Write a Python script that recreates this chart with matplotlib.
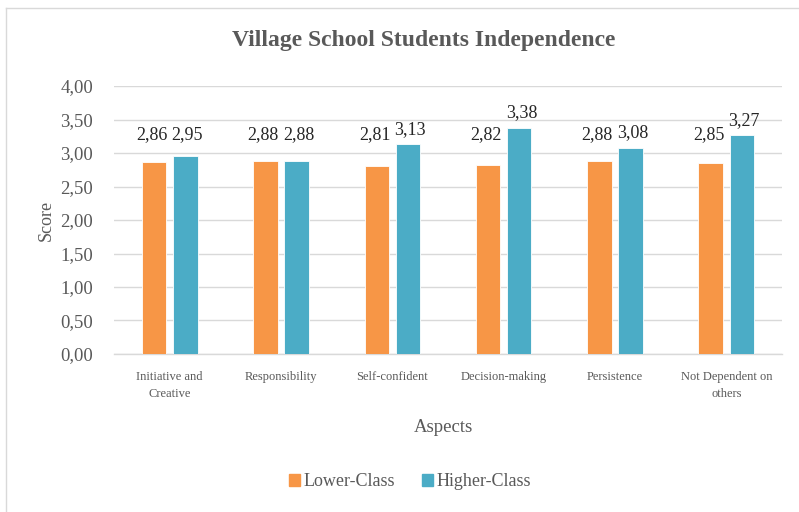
import numpy as np
import matplotlib.pyplot as plt
from matplotlib.lines import Line2D
from matplotlib.patches import Patch

plt.rcParams['font.family'] = ['Liberation Serif', 'DejaVu Serif']

aspects = ['Initiative and\nCreative', 'Responsibility', 'Self-confident',
           'Decision-making', 'Persistence', 'Not Dependent on\nothers']
lower = [2.86, 2.88, 2.81, 2.82, 2.88, 2.85]
higher = [2.95, 2.88, 3.13, 3.38, 3.08, 3.27]
yticks = [0.0, 0.5, 1.0, 1.5, 2.0, 2.5, 3.0, 3.5, 4.0]

c_low = '#F79646'
c_high = '#4BACC6'
grey = '#595959'

fig = plt.figure(figsize=(7.99, 5.12), dpi=100)
ax = fig.add_axes([0.1427, 0.3086, 0.836, 0.5234])

x = np.arange(len(aspects))
w = 0.22
ax.bar(x - 0.14, lower, w, color=c_low, edgecolor='white', linewidth=0.6, zorder=3)
ax.bar(x + 0.14, higher, w, color=c_high, edgecolor='white', linewidth=0.6, zorder=3)

def fmt(v):
    return ('%.2f' % v).replace('.', ',')

# value labels sit above the bars, never below the 3.27 line
for xi, v in zip(x - 0.14, lower):
    ax.text(xi - 0.02, max(v + 0.22, 3.27), fmt(v), ha='center', va='center',
            fontsize=13, color='#262626')
for xi, v in zip(x + 0.14, higher):
    ax.text(xi + 0.02, max(v + 0.22, 3.27), fmt(v), ha='center', va='center',
            fontsize=13, color='#262626')

ax.set_xlim(-0.5, len(aspects) - 0.5)
ax.set_ylim(0, 4)
ax.set_yticks(yticks)
ax.set_yticklabels([fmt(t) for t in yticks], fontsize=13.5, color=grey)
ax.set_xticks(x)
ax.set_xticklabels(aspects, fontsize=9, color=grey, linespacing=1.6)
ax.tick_params(axis='x', length=0, pad=12)
ax.tick_params(axis='y', length=0, pad=15)
ax.grid(axis='y', color='#D9D9D9', linewidth=1, zorder=0)
for s in ['top', 'right', 'left']:
    ax.spines[s].set_visible(False)
ax.spines['bottom'].set_color('#D9D9D9')
ax.spines['bottom'].set_linewidth(1)

ax.set_ylabel('Score', fontsize=13, color=grey, labelpad=4)
fig.text(0.555, 0.166, 'Aspects', ha='center', va='center', fontsize=13.5, color=grey)
fig.text(0.53, 0.92, 'Village School Students Independence', ha='center', va='center',
         fontsize=17, fontweight='bold', color=grey)

handles = [Patch(color=c_low, label='Lower-Class'), Patch(color=c_high, label='Higher-Class')]
fig.legend(handles=handles, loc='center', bbox_to_anchor=(0.513, 0.059), ncol=2,
           frameon=False, fontsize=13, handlelength=0.6, handleheight=0.6,
           handletextpad=0.2, columnspacing=1.5, labelcolor=grey)

# chart border (left and top edges)
fig.add_artist(Line2D([6 / 799, 6 / 799], [0, 1 - 8 / 512], color='#D9D9D9', lw=1,
                      transform=fig.transFigure))
fig.add_artist(Line2D([6 / 799, 1], [1 - 8 / 512, 1 - 8 / 512], color='#D9D9D9', lw=1,
                      transform=fig.transFigure))

fig.savefig('out.png', dpi=100)
